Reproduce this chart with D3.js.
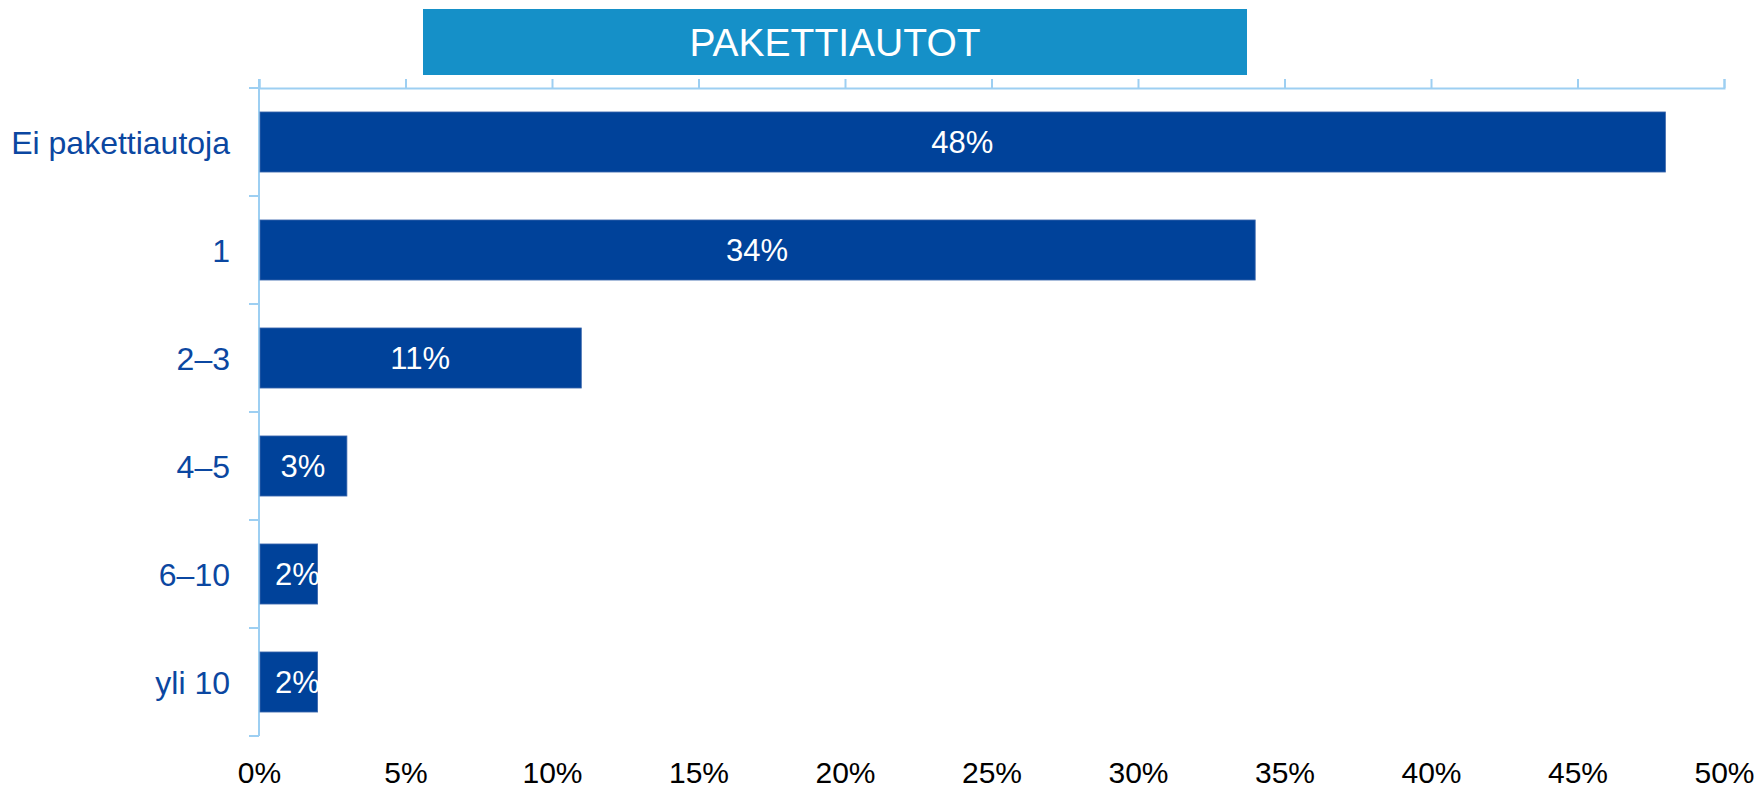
<!DOCTYPE html>
<html>
<head>
<meta charset="utf-8">
<script src="https://cdn.jsdelivr.net/npm/d3@7"></script>
<style>
  body { margin: 0; background: #fff; }
  svg { display: block; font-family: "Liberation Sans", Arial, sans-serif; }
</style>
</head>
<body>
<svg id="chart" width="1758" height="789"></svg>
<script>
// data
var categories = ["Ei pakettiautoja", "1", "2\u20133", "4\u20135", "6\u201310", "yli 10"];
var shares = [0.48, 0.34, 0.11, 0.03, 0.02, 0.02];
var xTicks = [0, 0.05, 0.10, 0.15, 0.20, 0.25, 0.30, 0.35, 0.40, 0.45, 0.50];
var title = "PAKETTIAUTOT";

var svg = d3.select("#chart");
// plot edges (note: "top" is taken by window.top, so prefixed names)
var pLeft = 259, pRight = 1724, pTop = 88, pBottom = 736;

var xSl = d3.scaleLinear().domain([0, 0.5]).range([pLeft, pRight]);
var ySl = d3.scaleBand().domain(categories).range([pTop, pBottom])
    .paddingInner(0.444).paddingOuter(0.222);
// category boundaries for the little ticks on the left axis
var yEdge = d3.scaleLinear().domain([0, categories.length]).range([pTop, pBottom]);

var axisCol = "#9dcff2", barCol = "#00429a", labCol = "#0b47a1";

// title box
svg.append("rect")
    .attr("x", 423).attr("y", 9).attr("width", 824).attr("height", 66)
    .attr("fill", "#1590c8");
svg.append("text")
    .attr("x", 835).attr("y", 56)
    .attr("text-anchor", "middle")
    .attr("fill", "#fff").style("font-size", "39px")
    .text(title);

// top axis with ticks, no labels
var gTop = svg.append("g").attr("transform", "translate(0," + pTop + ")")
    .call(d3.axisTop(xSl).tickValues(xTicks).tickSize(9).tickSizeOuter(9).tickFormat(""));
gTop.select(".domain").attr("stroke", axisCol).attr("stroke-width", 2);
gTop.selectAll(".tick line").attr("stroke", axisCol).attr("stroke-width", 2);

// bottom tick labels
var gBot = svg.append("g").attr("transform", "translate(0,762)")
    .call(d3.axisBottom(xSl).tickValues(xTicks).tickSize(0).tickPadding(0).tickFormat(d3.format(".0%")));
gBot.select(".domain").remove();
gBot.selectAll("text").attr("fill", "#000").style("font-size", "30px")
    .style("font-family", "'Liberation Sans', Arial, sans-serif");

// left axis line and boundary ticks
svg.append("line")
    .attr("x1", pLeft).attr("x2", pLeft).attr("y1", 79).attr("y2", pBottom)
    .attr("stroke", axisCol).attr("stroke-width", 2);
svg.selectAll(".ytick")
    .data(d3.range(categories.length + 1))
    .enter().append("line")
    .attr("class", "ytick")
    .attr("x1", pLeft - 10).attr("x2", pLeft)
    .attr("y1", d => yEdge(d)).attr("y2", d => yEdge(d))
    .attr("stroke", axisCol).attr("stroke-width", 2);

// category labels
svg.selectAll(".cat")
    .data(categories)
    .enter().append("text")
    .attr("class", "cat")
    .attr("x", pLeft - 29)
    .attr("y", d => ySl(d) + ySl.bandwidth() / 2)
    .attr("dy", "0.36em")
    .attr("text-anchor", "end")
    .attr("fill", labCol).style("font-size", "32px")
    .text(d => d);

// bars
var rows = categories.map((c, i) => ({cat: c, v: shares[i]}));
svg.selectAll(".bar")
    .data(rows)
    .enter().append("rect")
    .attr("class", "bar")
    .attr("x", xSl(0) + 1)
    .attr("y", d => ySl(d.cat))
    .attr("width", d => xSl(d.v) - xSl(0) - 1)
    .attr("height", ySl.bandwidth())
    .attr("fill", barCol)
    .attr("stroke", "#3d68ad").attr("stroke-width", 0.8);

// value labels, centred, but kept off the axis for the thin bars
svg.selectAll(".val")
    .data(rows)
    .enter().append("text")
    .attr("class", "val")
    .attr("y", d => ySl(d.cat) + ySl.bandwidth() / 2)
    .attr("dy", "0.36em")
    .attr("text-anchor", "middle")
    .attr("fill", "#fff").style("font-size", "31px")
    .text(d => d3.format(".0%")(d.v))
    .attr("x", function (d) {
        var w = this.getComputedTextLength();
        var mid = (xSl(0) + xSl(d.v)) / 2;
        return Math.max(mid, xSl(0) + 16 + w / 2);
    });
</script>
</body>
</html>
